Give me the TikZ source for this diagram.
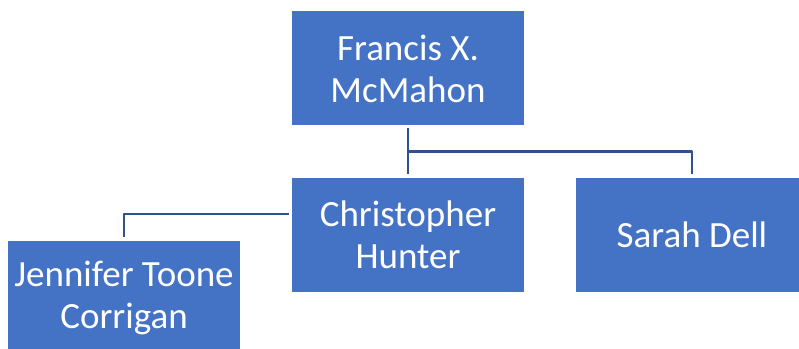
\documentclass[tikz,border=0pt]{standalone}
\usepackage{fontspec}
\setmainfont{Carlito}
\definecolor{boxblue}{HTML}{4472C4}
\definecolor{linkblue}{HTML}{2F528F}
\tikzset{
	box/.style={fill=boxblue,text=white,minimum width=232pt,minimum height=114pt,inner sep=0pt,align=center,font=\fontsize{37}{42}\selectfont},
	link/.style={draw=linkblue,line width=2.6pt}
}
\begin{document}
\begin{tikzpicture}[x=1pt,y=1pt,line join=round]
		%==page frame
		\clip (0,0) rectangle (799,348);
		%==boxes
		\node[box] (francis) at (408,279.5) {Francis X.\\McMahon};
		\node[box] (hunter) at (408,113) {Christopher\\Hunter};
		\node[box] (sarah) at (692,113) {Sarah Dell};
		\node[box] (jennifer) at (124,50) {Jennifer Toone\\Corrigan};
		%==============
		\path (francis.south)++(0,-26)coordinate(T);
		\path (hunter.west)++(0,21)coordinate(L);
		\draw[link,shorten <=2pt,shorten >=4pt] (francis.south)--(hunter.north);
		\draw[link,shorten >=4pt] (T)-|(sarah.north);
		\draw[link,shorten <=3pt,shorten >=4pt] (L)-|(jennifer.north);
		\end{tikzpicture}
\end{document}
